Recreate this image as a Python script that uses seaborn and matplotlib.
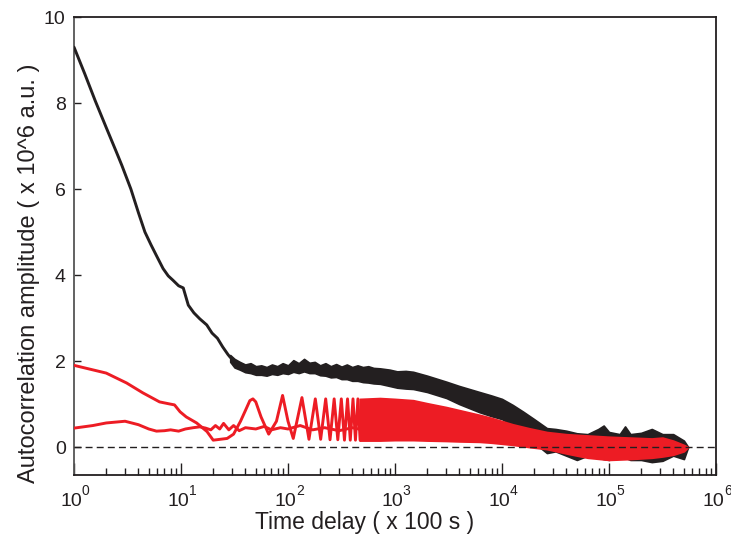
import numpy as np
import pandas as pd
import matplotlib
matplotlib.use("Agg")
import matplotlib.pyplot as plt
import matplotlib.transforms as mtransforms
import seaborn as sns

# ---------------- data ----------------
# black curve, smooth head (time delay, amplitude)
black_head_x = [1, 1.26, 1.58, 2.0, 2.5, 2.8, 3.4, 4.0, 4.6, 5.25, 5.9, 6.8, 7.6, 8.4,
                9.5, 10.5, 11.7, 13.2, 15, 17.4, 19.5, 21.9, 24.5, 27.5, 29]
black_head_y = [9.3, 8.68, 8.05, 7.43, 6.85, 6.55, 6.0, 5.45, 5.0, 4.7, 4.45, 4.15, 3.98,
                3.88, 3.75, 3.7, 3.3, 3.12, 2.98, 2.84, 2.65, 2.53, 2.33, 2.15, 2.08]

# black noisy band (log10 of time delay, upper edge, lower edge)
black_band_logx = [1.46, 1.5, 1.55, 1.6, 1.65, 1.7, 1.75, 1.8, 1.85, 1.9,
                   1.95, 2.0, 2.05, 2.1, 2.15, 2.2, 2.25, 2.3, 2.35, 2.4,
                   2.45, 2.5, 2.55, 2.6, 2.65, 2.7, 2.75, 2.8, 2.86, 2.95,
                   3.02, 3.1, 3.17, 3.3, 3.48, 3.6, 3.79, 3.9, 4.0, 4.1,
                   4.2, 4.3, 4.42, 4.5, 4.6, 4.7, 4.8, 4.9, 4.95, 5.0,
                   5.1, 5.15, 5.2, 5.3, 5.4, 5.5, 5.6, 5.7, 5.74]
black_band_hi = [2.14, 2.05, 1.98, 1.92, 1.95, 1.88, 1.9, 1.86, 1.92, 1.88,
                 1.95, 1.9, 2.02, 1.95, 2.05, 1.96, 1.98, 1.9, 1.95, 1.88,
                 1.93, 1.87, 1.92, 1.86, 1.9, 1.86, 1.88, 1.84, 1.83, 1.8,
                 1.76, 1.77, 1.75, 1.66, 1.52, 1.42, 1.28, 1.2, 1.12, 0.98,
                 0.82, 0.65, 0.44, 0.42, 0.38, 0.32, 0.3, 0.42, 0.5, 0.35,
                 0.3, 0.48, 0.3, 0.33, 0.42, 0.3, 0.3, 0.15, 0.0]
black_band_lo = [1.98, 1.85, 1.8, 1.74, 1.72, 1.68, 1.68, 1.66, 1.7, 1.68,
                 1.72, 1.7, 1.75, 1.72, 1.76, 1.72, 1.72, 1.67, 1.66, 1.62,
                 1.63, 1.58, 1.58, 1.54, 1.54, 1.51, 1.5, 1.48, 1.47, 1.42,
                 1.38, 1.36, 1.35, 1.28, 1.14, 1.0, 0.81, 0.72, 0.65, 0.5,
                 0.3, 0.1, -0.14, -0.1, -0.2, -0.3, -0.2, -0.25, -0.28, -0.3,
                 -0.2, -0.25, -0.3, -0.3, -0.35, -0.32, -0.2, -0.28, 0.0]

# red curve A (starts near 1.9) followed by its resolved oscillations
red_a_x = [1, 2.0, 3.1, 4.4, 6.3, 7.9, 8.7, 9.8, 11.2, 14, 17.5, 20, 27, 31,
           36, 40, 44, 47, 50, 56, 66, 78, 89, 100, 112, 135, 157, 180, 202, 225, 247,
           270, 292, 315, 337, 360, 382, 405, 427, 450, 472]
red_a_y = [1.9, 1.72, 1.49, 1.26, 1.05, 1.0, 0.98, 0.82, 0.7, 0.56, 0.36, 0.16, 0.2, 0.3,
           0.6, 0.85, 1.08, 1.12, 1.05, 0.7, 0.3, 0.6, 1.2, 0.6, 0.2, 1.15, 0.18, 1.12, 0.18,
           1.12, 0.17, 1.12, 0.17, 1.12, 0.16, 1.12, 0.16, 1.12, 0.16, 1.12, 0.16]

# red curve B (starts near 0.45)
red_b_x = [1, 1.5, 2, 3, 4, 5, 5.9, 7, 8, 9.5, 11, 13, 15, 17, 19, 21, 23, 25, 28, 31,
           35, 40, 50, 60, 70, 85, 100, 130, 170, 220, 300, 400, 500]
red_b_y = [0.44, 0.5, 0.56, 0.6, 0.52, 0.42, 0.37, 0.38, 0.4, 0.37, 0.42, 0.45, 0.47,
           0.44, 0.4, 0.5, 0.42, 0.55, 0.4, 0.5, 0.38, 0.45, 0.42, 0.48, 0.4, 0.45, 0.42,
           0.5, 0.4, 0.45, 0.38, 0.45, 0.4]

# red dense band (log10 of time delay, upper, lower)
red_band_logx = [2.67, 2.86, 3.0, 3.17, 3.3, 3.48, 3.6, 3.79, 3.9, 4.1, 4.25, 4.42,
                 4.6, 4.8, 5.0, 5.2, 5.4, 5.5, 5.6, 5.7, 5.74]
red_band_hi = [1.12, 1.14, 1.12, 1.09, 1.02, 0.93, 0.86, 0.75, 0.68, 0.53, 0.44, 0.35,
               0.3, 0.27, 0.24, 0.22, 0.2, 0.22, 0.15, 0.05, 0.0]
red_band_lo = [0.15, 0.15, 0.16, 0.16, 0.15, 0.14, 0.13, 0.12, 0.1, 0.05, 0.0, -0.05,
               -0.15, -0.25, -0.3, -0.28, -0.25, -0.22, -0.18, -0.1, 0.0]

x_ticks = [1, 10, 100, 1000, 10000, 100000, 1000000]
x_tick_base = "10"
x_tick_exps = ["0", "1", "2", "3", "4", "5", "6"]
y_ticks = [0, 2, 4, 6, 8, 10]

BLACK = "#231F20"
RED = "#ED1C24"

# ---------------- plotting ----------------
sns.set_theme(style="white")
plt.rcParams["font.family"] = ["Liberation Sans", "DejaVu Sans"]

fig = plt.figure(figsize=(7.31, 5.35), dpi=100)
ax = fig.add_axes([74 / 731, 60 / 535, (716 - 74) / 731, (475 - 17) / 535])

bx = 10 ** np.array(black_band_logx)
ax.fill_between(bx, black_band_lo, black_band_hi, color=BLACK, lw=1.2, zorder=2)
sns.lineplot(x=black_head_x, y=black_head_y, ax=ax, color=BLACK, lw=2.1,
             sort=False, estimator=None, zorder=3)

sns.lineplot(x=red_b_x, y=red_b_y, ax=ax, color=RED, lw=2.1, sort=False,
             estimator=None, zorder=4)
sns.lineplot(x=red_a_x, y=red_a_y, ax=ax, color=RED, lw=2.1, sort=False,
             estimator=None, zorder=4)
rx = 10 ** np.array(red_band_logx)
ax.fill_between(rx, red_band_lo, red_band_hi, color=RED, lw=1.2, zorder=4)

ax.axhline(0, color=BLACK, lw=1.0, ls=(0, (5, 3)), zorder=5)

ax.set_xscale("log")
ax.set_xlim(1, 1e6)
ax.set_ylim(-0.65, 10)
ax.set_xticks(x_ticks)
ax.set_xticklabels([])
ax.set_yticks(y_ticks)
ax.set_yticklabels([str(v) for v in y_ticks])
ax.xaxis.set_minor_locator(matplotlib.ticker.LogLocator(base=10, subs=np.arange(2, 10)))
ax.xaxis.set_minor_formatter(matplotlib.ticker.NullFormatter())

ax.tick_params(axis="x", which="major", direction="in", length=8.6, width=1.0,
               color=BLACK, bottom=True, top=False)
ax.tick_params(axis="x", which="minor", direction="in", length=5, width=1.0,
               color=BLACK, bottom=True, top=False)
ax.tick_params(axis="y", which="major", direction="in", length=5, width=1.0,
               color=BLACK, left=True, right=False, labelsize=14,
               labelcolor=BLACK, pad=6)

# x tick labels: "10" with a raised exponent
trans = mtransforms.blended_transform_factory(ax.transData, ax.transAxes)
for xt, ex in zip(x_ticks, x_tick_exps):
    t1 = mtransforms.offset_copy(trans, fig=fig, x=-1.8, y=-22.3, units="points")
    ax.text(xt, 0, x_tick_base, transform=t1, ha="center", va="baseline",
            fontsize=14, color=BLACK)
    t2 = mtransforms.offset_copy(trans, fig=fig, x=5.6, y=-14.4, units="points")
    ax.text(xt, 0, ex, transform=t2, ha="left", va="baseline",
            fontsize=10, color=BLACK)

for side, sp in ax.spines.items():
    sp.set_visible(True)
    sp.set_color(BLACK)
    sp.set_linewidth(1.3)
ax.spines["left"].set_color("#555555")

ax.set_xlabel("Time delay ( x 100 s )", fontsize=16.5, color=BLACK)
ax.xaxis.set_label_coords(0.452, -0.078)
ax.set_ylabel("Autocorrelation amplitude ( x 10^6 a.u. )", fontsize=17, color=BLACK)
ax.yaxis.set_label_coords(-0.053, 0.441)
ax.grid(False)

fig.savefig("out.png", dpi=100)
